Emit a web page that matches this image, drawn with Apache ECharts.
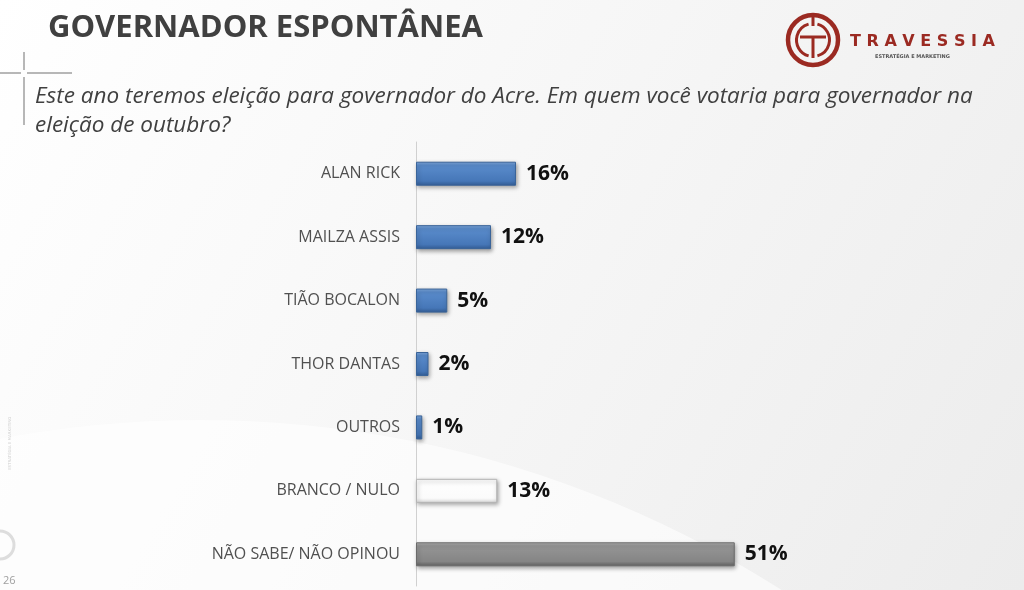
<!DOCTYPE html>
<html>
<head>
<meta charset="utf-8">
<script src="https://cdn.jsdelivr.net/npm/echarts@6/dist/echarts.min.js"></script>
<style>
    html, body { margin: 0; padding: 0; }
    #chart { width: 1024px; height: 590px; }
</style>
</head>
<body>
<div id="chart"></div>
<script>
    const categories = ['ALAN RICK', 'MAILZA ASSIS', 'TIÃO BOCALON', 'THOR DANTAS', 'OUTROS', 'BRANCO / NULO', 'NÃO SABE/ NÃO OPINOU'];
    const values = [16, 12, 5, 2, 1, 13, 51];
    const barKinds = ['blue', 'blue', 'blue', 'blue', 'blue', 'white', 'gray'];

    const title = 'GOVERNADOR ESPONTÂNEA';
    const question = ['Este ano teremos eleição para governador do Acre. Em quem você votaria para governador na', 'eleição de outubro?'];

    function vgrad(stops) {
        return {
            type: 'linear', x: 0, y: 0, x2: 0, y2: 1,
            colorStops: stops.map(s => ({ offset: s[0], color: s[1] }))
        };
    }

    const fills = {
        blue: {
            color: vgrad([[0, '#7fa8dc'], [0.15, '#5a8ccc'], [0.8, '#4677b8'], [1, '#345e96']]),
            borderColor: '#3a6499'
        },
        white: {
            color: vgrad([[0, '#ffffff'], [0.8, '#fbfbfb'], [1, '#dcdcdc']]),
            borderColor: '#b5b5b5'
        },
        gray: {
            color: vgrad([[0, '#b0b0b0'], [0.15, '#959595'], [0.8, '#858585'], [1, '#626262']]),
            borderColor: '#6a6a6a'
        }
    };

    const chart = echarts.init(document.getElementById('chart'));

    // reversed so the first category sits on top
    let seriesData = values.map((v, i) => ({
        value: v,
        itemStyle: {
            color: fills[barKinds[i]].color,
            borderColor: fills[barKinds[i]].borderColor,
            borderWidth: 1,
            shadowColor: 'rgba(0,0,0,0.35)',
            shadowBlur: 4,
            shadowOffsetX: 1,
            shadowOffsetY: 2
        }
    })).reverse();

    chart.setOption({
        backgroundColor: {
            type: 'linear', x: 0, y: 0, x2: 1, y2: 1,
            colorStops: [
                { offset: 0, color: '#ffffff' },
                { offset: 0.5, color: '#f6f6f6' },
                { offset: 1, color: '#ececec' }
            ]
        },
        textStyle: { fontFamily: 'Open Sans' },
        grid: { left: 416, top: 142, width: 500, height: 444, containLabel: false },
        xAxis: {
            type: 'value',
            min: 0,
            max: 80,
            show: false
        },
        yAxis: {
            type: 'category',
            data: categories.slice().reverse(),
            axisLine: { show: true, lineStyle: { color: '#d0d0d0', width: 1 } },
            axisTick: { show: false },
            axisLabel: { color: '#505050', fontSize: 16, margin: 16, fontFamily: 'Open Sans' }
        },
        series: [{
            type: 'bar',
            data: seriesData,
            barWidth: 24,
            label: {
                show: true,
                position: 'right',
                distance: 10,
                formatter: '{c}%',
                color: '#111',
                fontSize: 21,
                fontWeight: 'bold',
                fontFamily: 'Open Sans'
            }
        }],
        graphic: [
            // soft swoosh in background
            {
                type: 'circle', silent: true, z: -10,
                shape: { cx: 200, cy: 1500, r: 1080 },
                style: { fill: 'rgba(255,255,255,0.6)' }
            },
            {
                type: 'text', left: 48, top: 13,
                style: { text: title, fontSize: 31, fontWeight: 'bold', fill: '#404040', fontFamily: 'Open Sans' }
            },
            {
                type: 'text', left: 35, top: 82,
                style: { text: question.join('\n'), fontSize: 22.5, fontStyle: 'italic', fill: '#404040', lineHeight: 29, fontFamily: 'Open Sans' }
            },
            // crosshair ornament
            { type: 'line', shape: { x1: 0, y1: 73, x2: 21, y2: 73 }, style: { stroke: '#707070', lineWidth: 1 } },
            { type: 'line', shape: { x1: 27, y1: 73, x2: 72, y2: 73 }, style: { stroke: '#707070', lineWidth: 1 } },
            { type: 'line', shape: { x1: 24, y1: 52, x2: 24, y2: 70 }, style: { stroke: '#707070', lineWidth: 1 } },
            { type: 'line', shape: { x1: 24, y1: 77, x2: 24, y2: 125 }, style: { stroke: '#707070', lineWidth: 1 } },
            // logo
            { type: 'circle', shape: { cx: 813, cy: 40, r: 25 }, style: { fill: 'none', stroke: '#9b2a22', lineWidth: 4.5 } },
            { type: 'arc', shape: { cx: 813, cy: 40, r: 16.5, startAngle: -1.3, endAngle: 1.3 }, style: { fill: 'none', stroke: '#9b2a22', lineWidth: 3 } },
            { type: 'arc', shape: { cx: 813, cy: 40, r: 16.5, startAngle: 1.84, endAngle: 4.44 }, style: { fill: 'none', stroke: '#9b2a22', lineWidth: 3 } },
            { type: 'line', shape: { x1: 800, y1: 37, x2: 826, y2: 37 }, style: { stroke: '#9b2a22', lineWidth: 3 } },
            { type: 'line', shape: { x1: 813, y1: 37, x2: 813, y2: 58 }, style: { stroke: '#9b2a22', lineWidth: 3 } },
            { type: 'line', shape: { x1: 813, y1: 15, x2: 813, y2: 26 }, style: { stroke: '#9b2a22', lineWidth: 3 } },
            {
                type: 'text', left: 850, top: 34,
                style: { text: 'T R A V E S S I A', fontSize: 16, fontWeight: 'bold', fill: '#9b2a22', fontFamily: 'DejaVu Sans' }
            },
            {
                type: 'text', left: 875, top: 54,
                style: { text: 'ESTRATÉGIA E MARKETING', fontSize: 5, fontWeight: 'bold', fill: '#555', fontFamily: 'DejaVu Sans' }
            },
            // faint side marks
            {
                type: 'text', x: 8, y: 470, rotation: Math.PI / 2,
                style: { text: 'ESTRATÉGIA E MARKETING', fontSize: 4, fill: '#d0d0d0', fontFamily: 'DejaVu Sans' }
            },
            { type: 'circle', shape: { cx: 0, cy: 545, r: 14 }, style: { fill: 'none', stroke: '#dddddd', lineWidth: 3 } },
            {
                type: 'text', left: 3, top: 575,
                style: { text: '26', fontSize: 11, fill: '#a0a0a0', fontFamily: 'Open Sans' }
            }
        ]
    });
</script>
</body>
</html>
